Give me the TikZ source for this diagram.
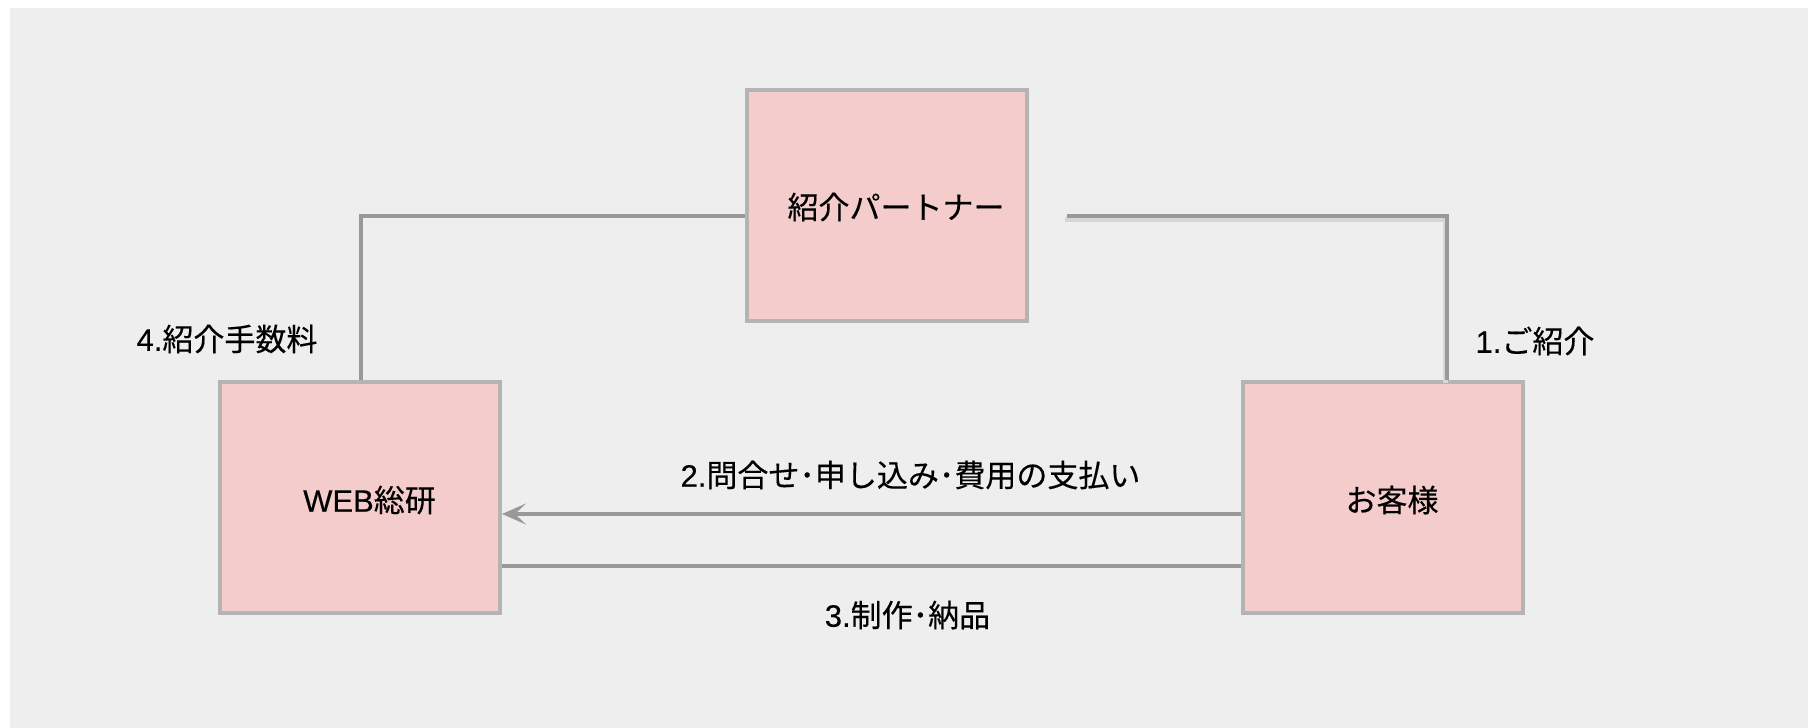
\documentclass[tikz,border=0pt]{standalone}
\usepackage{fontspec}
\setmainfont{Noto Sans CJK JP}[FakeBold=0.3]
\newfontfamily\latin{Liberation Sans}[FakeBold=0.3]
\usetikzlibrary{arrows.meta}
\definecolor{bgcol}{HTML}{EEEEEE}
\definecolor{boxfill}{HTML}{F4CCCC}
\definecolor{boxline}{HTML}{B4B4B4}
\definecolor{conncol}{HTML}{999999}
\definecolor{shadowcol}{HTML}{D6D6D6}
\tikzset{
  box/.style={draw=boxline, fill=boxfill, line width=4pt, inner sep=0pt,
    minimum width=280pt, minimum height=231pt},
  lbl/.style={inner sep=0pt, font=\fontsize{31pt}{35pt}\selectfont, text=black},
  conn/.style={draw=conncol, line width=3.4pt},
  shadowline/.style={draw=shadowcol, line width=5pt},
}
\begin{document}
\begin{tikzpicture}[x=1pt, y=-1pt]
\useasboundingbox (0,0) rectangle (1808,728);
\fill[white] (0,0) rectangle (1808,728);
\fill[bgcol] (10,8) rectangle (1808,728);

\node[box] (partner) at (887,205.5) {};
\node[box] (web) at (360,497.5) {};
\node[box] (cust) at (1382.5,497.5) {};

\node[lbl] (tpartner) at (896,207) {紹介パートナー};
\node[lbl] (tweb) at (369.5,500) {{\latin WEB}総研};
\node[lbl] (tcust) at (1392,500) {お客様};

\coordinate (lx) at (361,0);
\coordinate (ly) at (0,216);
\coordinate (rs) at (1067,216);
\coordinate (rx) at (1447,0);
\coordinate (y2) at (0,514);
\coordinate (y3) at (0,566);

% 4. fee connector
\draw[conn] (web.north -| lx) |- (partner.west |- ly);
% 1. introduction connector with shadow
\draw[shadowline, transform canvas={xshift=-2pt, yshift=-3pt}] (rs) -| (cust.north -| rx);
\draw[conn] (rs) -| (cust.north -| rx);
% 2. arrow
\draw[conn, -{Stealth[length=24pt, width=21pt, inset=11pt]}] (cust.west |- y2) -- (web.east |- y2);
% 3. line
\draw[conn] (web.east |- y3) -- (cust.west |- y3);

\node[lbl] (l4) at (227,339) {{\latin 4.}紹介手数料};
\node[lbl] (l1) at (1535,341) {{\latin 1.}ご紹介};
\node[lbl] (l2) at (910.5,475) {{\latin 2.}問合せ･申し込み･費用の支払い};
\node[lbl] (l3) at (907.5,615) {{\latin 3.}制作･納品};
\end{tikzpicture}
\end{document}
